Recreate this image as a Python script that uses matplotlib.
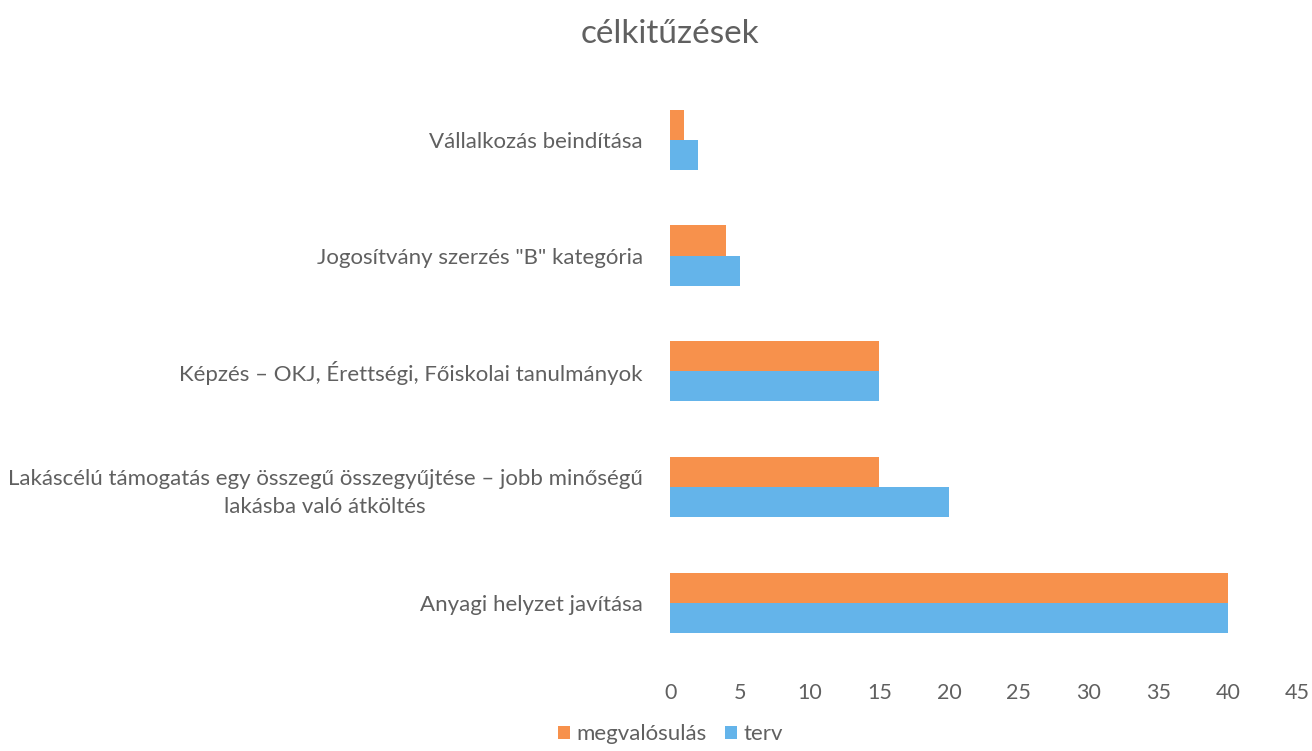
import matplotlib.pyplot as plt
import numpy as np

categories = ["Anyagi helyzet javítása",
              "Lakáscélú támogatás egy összegű összegyűjtése – jobb minőségű\nlakásba való átköltés",
              "Képzés – OKJ, Érettségi, Főiskolai tanulmányok",
              "Jogosítvány szerzés \"B\" kategória",
              "Vállalkozás beindítása"]
megvalosulas = [40, 15, 15, 4, 1]
terv = [40, 20, 15, 5, 2]
xticks = [0, 5, 10, 15, 20, 25, 30, 35, 40, 45]

plt.rcParams['font.family'] = ['Lato', 'DejaVu Sans']
grey = "#606060"

fig = plt.figure(figsize=(13.12, 7.51), dpi=100)
ax = fig.add_axes([0.511, 0.12, 0.478, 0.771])

y = np.arange(len(categories))
h = 0.26
ax.barh(y + h/2, megvalosulas, height=h, color="#F7914C", label="megvalósulás")
ax.barh(y - h/2, terv, height=h, color="#64B4EA", label="terv")

ax.set_xlim(0, 45)
ax.set_ylim(-0.5, len(categories) - 0.5)
ax.set_xticks(xticks)
ax.set_yticks(y)
ax.set_yticklabels(categories, ha="right", multialignment="center", linespacing=1.5)
ax.tick_params(axis="y", length=0, pad=20, labelsize=16, labelcolor=grey)
ax.tick_params(axis="x", length=0, pad=16, labelsize=15.5, labelcolor=grey)
for s in ax.spines.values():
    s.set_visible(False)

fig.text(0.511, 0.955, "célkitűzések", ha="center", va="center", fontsize=24, color=grey)
fig.legend(loc="center", bbox_to_anchor=(0.511, 0.022), ncol=2, frameon=False,
           fontsize=16, labelcolor=grey, handlelength=0.55, handleheight=0.55,
           columnspacing=0.8, handletextpad=0.3)

plt.savefig("out.png")
